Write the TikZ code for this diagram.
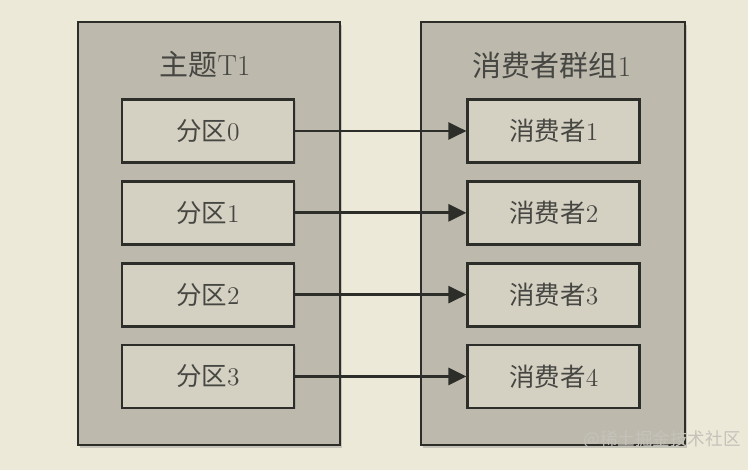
\documentclass[tikz,border=0pt]{standalone}
\usepackage{fontspec}
\newfontfamily\cjk{Noto Sans CJK SC}
\usetikzlibrary{arrows.meta,positioning,shadows}

\definecolor{paper}{RGB}{237,233,216}
\definecolor{groupfill}{RGB}{189,186,173}
\definecolor{partfill}{RGB}{213,209,194}
\definecolor{ink}{RGB}{45,45,42}
\definecolor{txt}{RGB}{70,70,66}
\definecolor{markgray}{RGB}{196,194,186}

\begin{document}
\begin{tikzpicture}[
font=\fontsize{14.5}{17}\selectfont,
node distance=0.32cm and 3.42cm,
group/.style={draw=ink, line width=1.5pt, fill=groupfill, minimum height=8.46cm,
  drop shadow={shadow xshift=0.04cm, shadow yshift=-0.06cm, opacity=0.35}},
part/.style={draw=ink, line width=1.6pt, fill=partfill, minimum width=3.44cm, minimum height=1.26cm,
  text=txt, drop shadow={shadow xshift=0.03cm, shadow yshift=-0.03cm, opacity=0.3}},
heading/.style={text=txt, font=\fontsize{16.5}{19}\selectfont},
arrow/.style={-{Triangle[length=0.36cm, width=0.34cm]}, line width=1.5pt, draw=ink}
]
\fill[paper] (0,0) rectangle (14.96,9.4);
\useasboundingbox (0,0) rectangle (14.96,9.4);

\node[group, minimum width=5.24cm] (topic) at (4.18,4.73) {};
\node[group, minimum width=5.28cm] (cgroup) at (11.06,4.73) {};
\node[heading] (topicname) at (4.1,8.1) {{\cjk 主题}T1};
\node[heading] (groupname) at (11.04,8.1) {{\cjk 消费者群组}1};

\node[part] (p0) at (4.16,6.78) {{\cjk 分区}0};
\node[part, below=of p0] (p1) {{\cjk 分区}1};
\node[part, below=of p1] (p2) {{\cjk 分区}2};
\node[part, below=of p2] (p3) {{\cjk 分区}3};

\node[part, right=of p0] (c1) {{\cjk 消费者}1};
\node[part, right=of p1] (c2) {{\cjk 消费者}2};
\node[part, right=of p2] (c3) {{\cjk 消费者}3};
\node[part, right=of p3] (c4) {{\cjk 消费者}4};

\draw[arrow] (p0) -- (c1);
\draw[arrow] (p1) -- (c2);
\draw[arrow] (p2) -- (c3);
\draw[arrow] (p3) -- (c4);

\node[text=markgray, font=\cjk\normalsize] (mark) at (13.24,0.6) {@稀土掘金技术社区};
\end{tikzpicture}
\end{document}
